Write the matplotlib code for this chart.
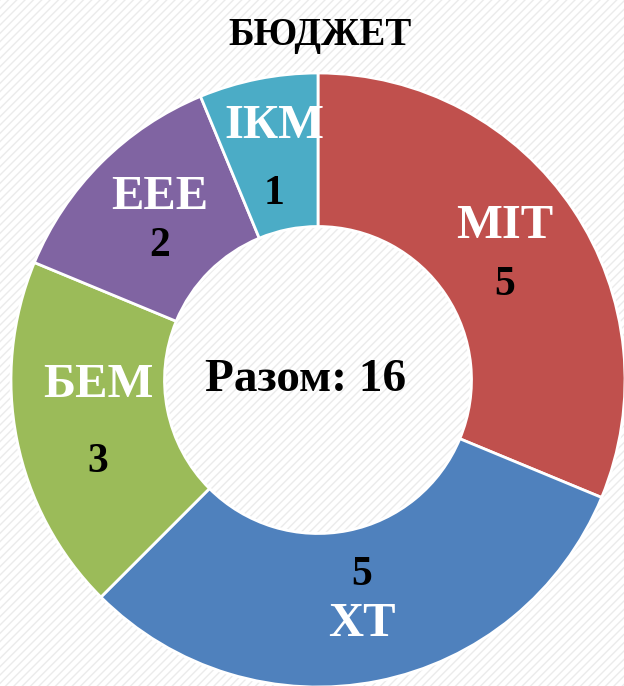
import matplotlib.pyplot as plt
import numpy as np
from matplotlib.patches import Rectangle

# Data
categories = ['МІТ', 'ХТ', 'БЕМ', 'ЕЕЕ', 'ІКМ']
values = [5, 5, 3, 2, 1]
colors = ['#C0504D', '#4F81BD', '#9BBB59', '#8064A2', '#4BACC6']
title = 'БЮДЖЕТ'

# label layout tweaks: gap between name and value (data units), value on top?
label_gap = [0.19, 0.16, 0.25, 0.16, 0.22]
value_on_top = [False, True, False, False, False]

plt.rcParams['font.family'] = ['Liberation Serif', 'DejaVu Serif']
plt.rcParams['font.weight'] = 'bold'
plt.rcParams['hatch.linewidth'] = 1.0

fig = plt.figure(figsize=(6.24, 6.86), dpi=100)
fig.patch.set_facecolor('white')
# faint diagonal striped background
bg = Rectangle((0, 0), 1, 1, transform=fig.transFigure, facecolor='white',
               edgecolor='#ebebeb', hatch='////', linewidth=0, zorder=-10)
fig.patches.append(bg)

ax = fig.add_axes([11 / 624, -1 / 686, 614 / 624, 614 / 686])
ax.set_facecolor('none')

wedges, _ = ax.pie(values, colors=colors, startangle=90, counterclock=False,
                   radius=1.0, wedgeprops=dict(width=0.5, edgecolor='white', linewidth=2))

for w, name, val, gap, top in zip(wedges, categories, values, label_gap, value_on_top):
    mid = np.deg2rad((w.theta1 + w.theta2) / 2)
    cx, cy = 0.73 * np.cos(mid), 0.73 * np.sin(mid)
    sign = -1 if top else 1
    ax.text(cx, cy + sign * gap / 2, name, ha='center', va='center',
            color='white', fontsize=35, fontweight='bold')
    ax.text(cx, cy - sign * gap / 2, str(val), ha='center', va='center',
            color='black', fontsize=30, fontweight='bold')

ax.text(-0.04, 0.0, f'Разом: {sum(values)}', ha='center', va='center',
        color='black', fontsize=34, fontweight='bold')

ax.set_xlim(-1, 1)
ax.set_ylim(-1, 1)
ax.set_aspect('equal')
ax.axis('off')

fig.text(0.513, 0.948, title, ha='center', va='center', fontsize=28,
         fontweight='bold', color='black')

fig.savefig('out.png', dpi=100, facecolor=fig.get_facecolor())
